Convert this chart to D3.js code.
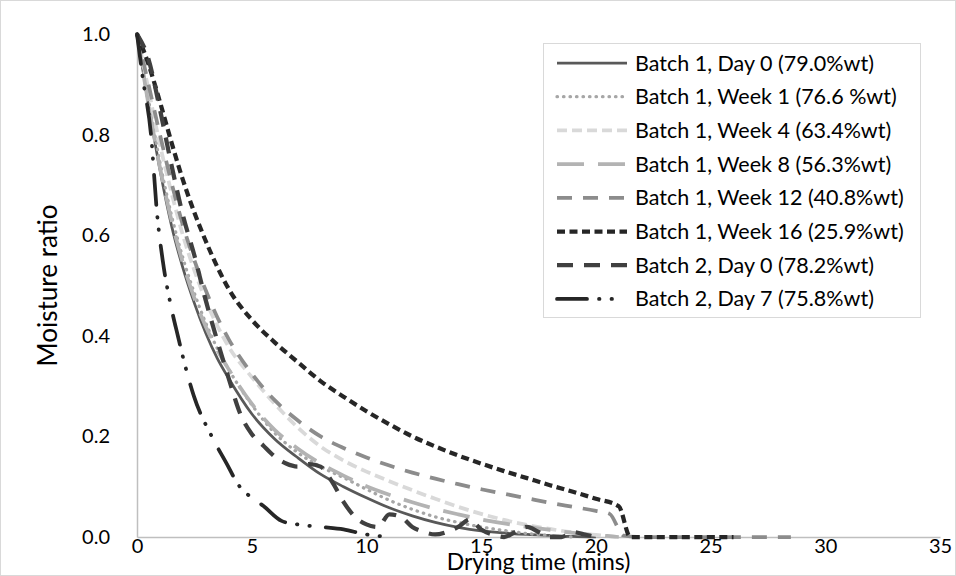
<!DOCTYPE html>
<html>
<head>
<meta charset="utf-8">
<script src="https://cdn.jsdelivr.net/npm/d3@7"></script>
<style>
  html, body { margin: 0; padding: 0; background: #fff; }
  svg { display: block; }
  text { font-family: Lato, "Noto Sans", sans-serif; fill: #000; }
</style>
</head>
<body>
<svg id="chart" width="956" height="576"></svg>
<script>
// Drying curves: moisture ratio vs drying time (mins)
const seriesNames = [
  "Batch 1, Day 0 (79.0%wt)",
  "Batch 1, Week 1 (76.6 %wt)",
  "Batch 1, Week 4 (63.4%wt)",
  "Batch 1, Week 8 (56.3%wt)",
  "Batch 1, Week 12 (40.8%wt)",
  "Batch 1, Week 16 (25.9%wt)",
  "Batch 2, Day 0 (78.2%wt)",
  "Batch 2, Day 7 (75.8%wt)"
];

const b1d0Time = [0,0.5,1,1.5,2,2.5,3,3.5,4,5,6,7,8,9,10,11,12,13,14,15,16,17,18,19,20];
const b1d0MR   = [1.0,0.86,0.73,0.62,0.535,0.465,0.405,0.355,0.315,0.245,0.195,0.158,0.125,0.1,0.078,0.058,0.042,0.029,0.019,0.012,0.008,0.005,0.003,0.001,0.0];

const b1w1Time = [0,0.5,1,1.5,2,2.5,3,3.5,4,5,6,7,8,9,10,11,12,13,14,15,16,17,18,19];
const b1w1MR   = [1.0,0.87,0.745,0.64,0.555,0.485,0.425,0.375,0.333,0.263,0.207,0.168,0.14,0.118,0.095,0.073,0.055,0.04,0.029,0.02,0.013,0.007,0.003,0.0];

const b1w4Time = [0,0.5,1,1.5,2,2.5,3,3.5,4,5,6,7,8,9,10,11,12,13,14,15,16,17,18,19,20,21];
const b1w4MR   = [1.0,0.89,0.78,0.685,0.6,0.53,0.47,0.42,0.378,0.318,0.265,0.218,0.18,0.152,0.13,0.111,0.093,0.076,0.06,0.046,0.034,0.024,0.016,0.009,0.004,0.0];

const b1w8Time = [0,0.5,1,1.5,2,2.5,3,3.5,4,5,6,7,8,9,10,11,12,13,14,15,16,17,18,19,20,21];
const b1w8MR   = [1.0,0.86,0.735,0.63,0.545,0.475,0.418,0.372,0.333,0.265,0.213,0.176,0.146,0.122,0.101,0.084,0.069,0.056,0.045,0.035,0.027,0.02,0.014,0.008,0.004,0.0];

const b1w12Time = [0,0.5,1,1.5,2,2.5,3,3.5,4,5,6,7,8,9,10,11,12,13,14,15,16,17,18,19,20,20.6,21.2,22,24,26,28.5];
const b1w12MR   = [1.0,0.9,0.8,0.705,0.62,0.55,0.49,0.437,0.393,0.325,0.272,0.232,0.2,0.177,0.158,0.142,0.128,0.116,0.105,0.095,0.086,0.077,0.068,0.06,0.052,0.046,0.003,0,0,0,0];

const b1w16Time = [0,0.5,1,1.5,2,2.5,3,3.5,4,5,6,7,8,9,10,11,12,13,14,15,16,17,18,19,20,21,21.5,22,23,24,25,26];
const b1w16MR   = [1.0,0.94,0.865,0.785,0.71,0.645,0.588,0.537,0.493,0.432,0.387,0.348,0.31,0.279,0.25,0.224,0.2,0.18,0.162,0.146,0.131,0.117,0.103,0.09,0.076,0.061,0.0,0,0,0,0,0];

const b2d0Time = [0,0.5,1,1.5,2,2.5,3,3.5,4,4.5,5,5.5,6,6.5,7,7.5,8,8.5,9,9.5,10,10.5,11,11.5,12,12.5,13,13.5,14,14.5,15,15.5,16,16.5,17,17.5,18,18.5,19,19.5,20];
const b2d0MR   = [1,0.95,0.85,0.74,0.64,0.56,0.47,0.39,0.315,0.245,0.205,0.182,0.16,0.146,0.14,0.145,0.14,0.11,0.07,0.04,0.025,0.02,0.045,0.04,0.02,0.01,0.005,0.01,0.02,0.035,0.015,0.005,0.0,0.01,0.02,0.01,0.0,0.0,0.01,0.005,0.0];

const b2d7Time = [0,0.26,0.61,0.87,1.13,1.48,1.79,2.09,2.48,3.27,3.92,4.4,5.0,5.5,6.3,7.0,8.0,9.0,10,11];
const b2d7MR   = [1,0.91,0.8,0.645,0.547,0.459,0.398,0.342,0.28,0.199,0.145,0.105,0.078,0.062,0.032,0.025,0.02,0.015,0.005,0.0];

const xTicks = [0,5,10,15,20,25,30,35];
const yTicks = [0,0.2,0.4,0.6,0.8,1.0];

const times  = [b1d0Time, b1w1Time, b1w4Time, b1w8Time, b1w12Time, b1w16Time, b2d0Time, b2d7Time];
const ratios = [b1d0MR, b1w1MR, b1w4MR, b1w8MR, b1w12MR, b1w16MR, b2d0MR, b2d7MR];

// line styles per series: colour, width, dash pattern, cap
const styles = [
  {stroke: "#595959", width: 2.75, dash: null,                   cap: "butt"},
  {stroke: "#a6a6a6", width: 3.25, dash: "0.5,6",                cap: "round"},
  {stroke: "#d9d9d9", width: 3.75, dash: "10,5",                 cap: "butt"},
  {stroke: "#b3b3b3", width: 3.75, dash: "27,14",                cap: "butt"},
  {stroke: "#8c8c8c", width: 3.75, dash: "15,11",                cap: "butt"},
  {stroke: "#262626", width: 4.25, dash: "8,4.5",                cap: "butt"},
  {stroke: "#404040", width: 4.25, dash: "16,11",                cap: "butt"},
  {stroke: "#262626", width: 3.75, dash: "30,12,0.5,12,0.5,16",  cap: "round"}
];

const series = seriesNames.map((name, i) => ({
  name,
  style: styles[i],
  values: times[i].map((t, j) => ({t, v: ratios[i][j]}))
}));

const svg = d3.select("#chart");
const W = 956, H = 576;

// outer chart border
svg.append("rect")
  .attr("x", 0.5).attr("y", 0.5)
  .attr("width", W - 1).attr("height", H - 1)
  .attr("fill", "#fff").attr("stroke", "#d9d9d9").attr("stroke-width", 1);

const plot = {left: 137, right: 940, top: 34, bottom: 537};

const x = d3.scaleLinear().domain([0, 35]).range([plot.left, plot.right]);
const y = d3.scaleLinear().domain([0, 1]).range([plot.bottom, plot.top]);

// axes: light gray axis line, no tick marks
const xAxis = svg.append("g")
  .attr("transform", `translate(0,${plot.bottom})`)
  .call(d3.axisBottom(x).tickValues(xTicks).tickSize(0).tickPadding(2).tickFormat(d3.format("d")));
const yAxis = svg.append("g")
  .attr("transform", `translate(${plot.left},0)`)
  .call(d3.axisLeft(y).tickValues(yTicks).tickSize(0).tickPadding(27).tickFormat(d3.format(".1f")));

[xAxis, yAxis].forEach(g => {
  g.select(".domain").attr("stroke", "#bfbfbf").attr("stroke-width", 1.5);
  g.selectAll("text")
    .attr("font-family", "Lato, 'Noto Sans', sans-serif")
    .attr("font-size", 20).attr("fill", "#000");
});

// axis titles
svg.append("text")
  .attr("x", (plot.left + plot.right) / 2).attr("y", 570)
  .attr("text-anchor", "middle").attr("font-size", 23)
  .text("Drying time (mins)");
svg.append("text")
  .attr("transform", `translate(57,${(plot.top + plot.bottom) / 2}) rotate(-90)`)
  .attr("text-anchor", "middle").attr("font-size", 26)
  .text("Moisture ratio");

// curves
const line = d3.line()
  .x(d => x(d.t)).y(d => y(d.v))
  .curve(d3.curveMonotoneX);

svg.append("g").selectAll("path")
  .data(series).join("path")
  .attr("d", d => line(d.values))
  .attr("fill", "none")
  .attr("stroke", d => d.style.stroke)
  .attr("stroke-width", d => d.style.width)
  .attr("stroke-dasharray", d => d.style.dash)
  .attr("stroke-linecap", d => d.style.cap)
  .attr("stroke-linejoin", "round");

// legend
const lg = {x: 543, y: 43, w: 377, h: 274, rowStart: 63, rowGap: 33.7};
svg.append("rect")
  .attr("x", lg.x + 0.5).attr("y", lg.y + 0.5)
  .attr("width", lg.w).attr("height", lg.h)
  .attr("fill", "#fff").attr("stroke", "#d9d9d9");

const items = svg.append("g").selectAll("g")
  .data(series).join("g")
  .attr("transform", (d, i) => `translate(0,${lg.rowStart + i * lg.rowGap})`);

items.append("line")
  .attr("x1", 557).attr("x2", 627).attr("y1", 0).attr("y2", 0)
  .attr("stroke", d => d.style.stroke)
  .attr("stroke-width", d => d.style.width)
  .attr("stroke-dasharray", d => d.style.dash)
  .attr("stroke-linecap", d => d.style.cap);

items.append("text")
  .attr("x", 635).attr("y", 0).attr("dy", "0.35em")
  .attr("font-size", 21.5)
  .text(d => d.name);
</script>
</body>
</html>
